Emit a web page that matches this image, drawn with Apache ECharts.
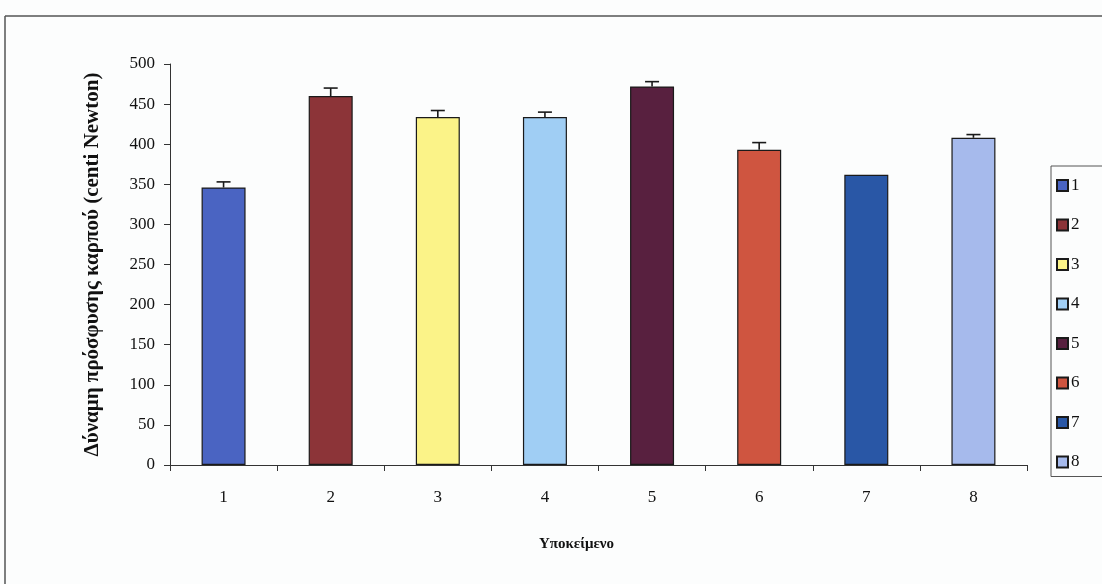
<!DOCTYPE html>
<html>
<head>
<meta charset="utf-8">
<script src="https://cdn.jsdelivr.net/npm/echarts@6/dist/echarts.min.js"></script>
<style>
html,body{margin:0;padding:0;background:#fcfdfd;}
#c{width:1102px;height:584px;}
</style>
</head>
<body>
<div id="c"></div>
<script>
const categories = ['1','2','3','4','5','6','7','8'];
const values = [346, 460, 434, 434, 472, 393, 362, 408];
const errors = [7, 10, 8, 6, 6, 9, 0, 4];
const yTicks = [0, 50, 100, 150, 200, 250, 300, 350, 400, 450, 500];
const yName = 'Δύναμη πρόσφυσης καρπού (centi Newton)';
const xName = 'Υποκείμενο';
const colors = ['#4a64c2', '#8c3438', '#fbf388', '#a0cef4', '#58203f', '#cf5540', '#2957a6', '#a6baec'];

const font = 'Liberation Serif';
const chart = echarts.init(document.getElementById('c'));

const barSeries = categories.map((name, i) => ({
  name: name,
  type: 'bar',
  stack: 'all',
  barWidth: 44,
  data: categories.map((c, j) => (j === i ? values[i] : null)),
  itemStyle: { color: colors[i], borderColor: '#1a1a1a', borderWidth: 1.2 },
  emphasis: { disabled: true }
}));

const errSeries = {
  name: 'err',
  type: 'custom',
  data: categories.map((c, i) => [i, values[i], errors[i]]),
  renderItem: function (params, api) {
    const x = api.value(0);
    const v = api.value(1);
    const e = api.value(2);
    if (!e) return null;
    const p0 = api.coord([x, v]);
    const p1 = api.coord([x, v + e]);
    const style = { stroke: '#1a1a1a', lineWidth: 1.6 };
    return {
      type: 'group',
      children: [
        { type: 'line', shape: { x1: p0[0], y1: p0[1], x2: p1[0], y2: p1[1] }, style: style },
        { type: 'line', shape: { x1: p1[0] - 7, y1: p1[1], x2: p1[0] + 7, y2: p1[1] }, style: style }
      ]
    };
  },
  z: 5,
  silent: true
};

chart.setOption({
  backgroundColor: '#fcfdfd',
  animation: false,
  textStyle: { fontFamily: font },
  graphic: [
    { type: 'line', shape: { x1: 5, y1: 16, x2: 1102, y2: 16 }, style: { stroke: '#555', lineWidth: 1.5 } },
    { type: 'line', shape: { x1: 5, y1: 16, x2: 5, y2: 584 }, style: { stroke: '#555', lineWidth: 1.5 } }
  ],
  grid: { left: 170, right: 75, top: 64, bottom: 119 },
  legend: {
    data: categories,
    orient: 'vertical',
    left: 1051,
    top: 166,
    padding: [11, 40, 6, 5],
    itemGap: 22.5,
    itemWidth: 11,
    itemHeight: 11,
    icon: 'rect',
    borderColor: '#555',
    borderWidth: 1,
    borderRadius: 0,
    textStyle: { fontFamily: font, fontSize: 17, color: '#111', lineHeight: 16, height: 16, padding: [0, 0, 0, -2] }
  },
  xAxis: {
    type: 'category',
    data: categories,
    name: xName,
    nameLocation: 'middle',
    nameGap: 72,
    nameTextStyle: { fontFamily: font, fontSize: 15, fontWeight: 'bold', color: '#111', padding: [0, 44, 0, 0] },
    axisLine: { lineStyle: { color: '#333', width: 1 } },
    axisTick: { show: true, alignWithLabel: false, length: 6, lineStyle: { color: '#333' } },
    axisLabel: { fontFamily: font, fontSize: 17, color: '#111', margin: 24 }
  },
  yAxis: {
    type: 'value',
    min: 0,
    max: 500,
    interval: 50,
    name: yName,
    nameLocation: 'middle',
    nameGap: 67,
    nameTextStyle: { fontFamily: font, fontSize: 21, fontWeight: 'bold', color: '#111' },
    axisLine: { show: true, lineStyle: { color: '#333', width: 1 } },
    axisTick: { show: true, length: 6, lineStyle: { color: '#333' } },
    axisLabel: { fontFamily: font, fontSize: 17, color: '#111', margin: 15,
      formatter: function (v) { return yTicks.indexOf(v) >= 0 ? String(v) : ''; } },
    splitLine: { show: false }
  },
  series: barSeries.concat([errSeries])
});
</script>
</body>
</html>
